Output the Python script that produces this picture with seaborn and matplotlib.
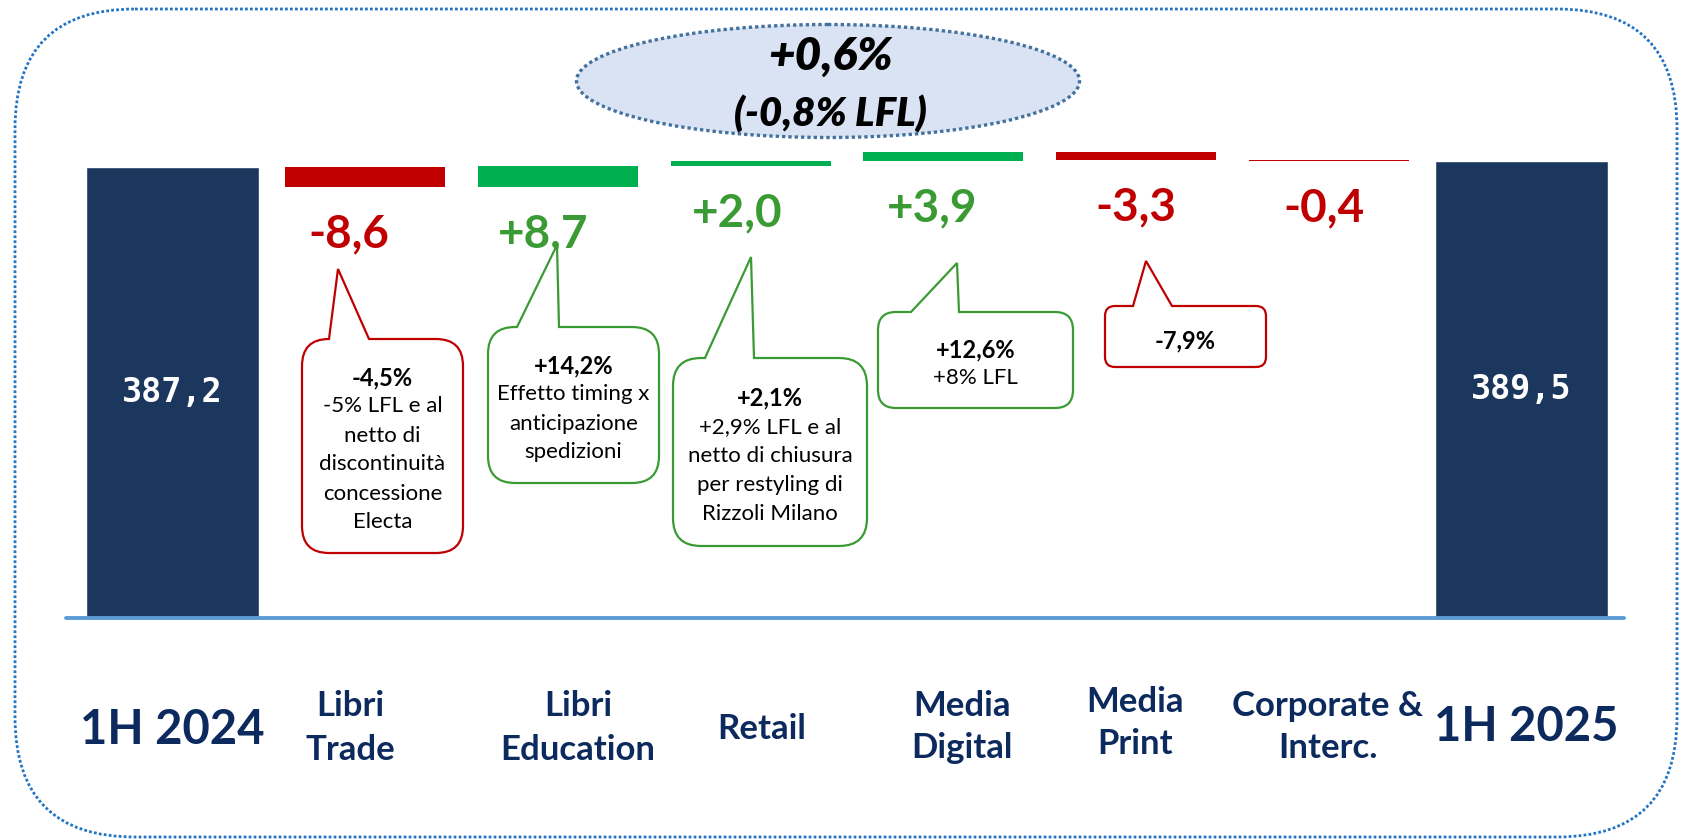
import numpy as np
import pandas as pd
import matplotlib
matplotlib.use("Agg")
import matplotlib.pyplot as plt
import seaborn as sns
from matplotlib.patches import Ellipse, FancyBboxPatch, PathPatch
from matplotlib.path import Path

# ---- data ----
categories = ["1H 2024", "Libri\nTrade", "Libri\nEducation", "Retail",
              "Media\nDigital", "Media\nPrint", "Corporate &\nInterc.", "1H 2025"]
start_value = 387.2
end_value = 389.5
deltas = [-8.6, 8.7, 2.0, 3.9, -3.3, -0.4]
delta_labels = ["-8,6", "+8,7", "+2,0", "+3,9", "-3,3", "-0,4"]
total_labels = ["387,2", "389,5"]
callout_heads = ["-4,5%", "+14,2%", "+2,1%", "+12,6%", "-7,9%"]
callout_bodies = [
    ["-5% LFL e al", "netto di", "discontinuità", "concessione", "Electa"],
    ["Effetto timing x", "anticipazione", "spedizioni"],
    ["+2,9% LFL e al", "netto di chiusura", "per restyling di", "Rizzoli Milano"],
    ["+8% LFL"],
    [],
]
growth_main = "+0,6%"
growth_lfl = "(-0,8% LFL)"

# ---- style ----
NAVY = "#1B375E"
RED = "#C00000"
GREEN_BAR = "#00B050"
GREEN_TXT = "#3A9B34"
LABEL_NAVY = "#0C2A5E"
BASELINE = "#5B9BD5"
Y_FLOOR = 200

sns.set_theme(style="white")
plt.rcParams['font.family'] = ['Lato', 'DejaVu Sans']

W, H = 1684, 840
fig = plt.figure(figsize=(W / 100, H / 100), dpi=100)
fig.patch.set_facecolor("white")

base_px = 617.5
ax = fig.add_axes([66 / W, (H - base_px) / H, (1624 - 66) / W, 481.8 / H])

# totals with seaborn
df_tot = pd.DataFrame({"cat": [categories[0], categories[-1]],
                       "value": [start_value, end_value]})
sns.barplot(data=df_tot, x="cat", y="value", order=categories, color=NAVY,
            saturation=1, width=0.9, errorbar=None, ax=ax)

# floating deltas
levels = start_value + np.cumsum(deltas)
prev = np.concatenate([[start_value], levels[:-1]])
bottoms = np.minimum(prev, levels)
heights = np.abs(deltas)
xpos = np.arange(1, len(deltas) + 1)
colors = [GREEN_BAR if d > 0 else RED for d in deltas]
ax.bar(xpos, heights, bottom=bottoms, width=0.83, color=colors, linewidth=0)

ax.set_xlim(-0.553, 7.532)
ax.set_ylim(Y_FLOOR, 400)
ax.set_xticks([])
ax.set_yticks([])
ax.set_xlabel("")
ax.set_ylabel("")
sns.despine(ax=ax, left=True, bottom=True)
ax.axhline(Y_FLOOR, color=BASELINE, lw=2.8, clip_on=False, zorder=3)

# delta value labels
delta_dx = [-16, -15, -13, -11, 0, -5]
for x, b, d, lbl, dx in zip(xpos, bottoms, deltas, delta_labels, delta_dx):
    ax.annotate(lbl, xy=(x, b), xytext=(dx, -43), textcoords="offset pixels",
                ha="center", va="center_baseline", fontsize=33, fontweight="bold",
                color=GREEN_TXT if d > 0 else RED)

# totals labels
for x, v, lbl in zip([0, len(categories) - 1], [start_value, end_value], total_labels):
    ax.text(x, (Y_FLOOR + v) / 2, lbl, ha="center", va="center", color="white",
            fontsize=24, fontweight="bold", family="DejaVu Sans Mono")

# category labels
cat_dx = [0, -15, 20, 11, 19, -1, -1, 5]
cat_y = [726, 725, 725, 726, 724, 720, 724, 723]
for i, (lab, dx, yc) in enumerate(zip(categories, cat_dx, cat_y)):
    lines = lab.split("\n")
    big = i in (0, len(categories) - 1)
    gap = 43
    for k, line in enumerate(lines):
        yy = yc + (k - (len(lines) - 1) / 2) * gap
        ax.annotate(line, xy=(i, 0), xycoords=ax.get_xaxis_transform(),
                    xytext=(dx, -(yy - base_px)), textcoords="offset pixels",
                    ha="center", va="center_baseline", fontweight="bold",
                    fontsize=34 if big else 25, color=LABEL_NAVY, annotation_clip=False)

# ---- overlay in pixel space ----
ov = fig.add_axes([0, 0, 1, 1])
ov.set_xlim(0, W)
ov.set_ylim(H, 0)
ov.axis("off")

# outer dotted frame
ov.add_patch(FancyBboxPatch((15, 9), 1662, 828, boxstyle="round,pad=0,rounding_size=120",
                            fill=False, ec="#2474C4", lw=2, ls=(0, (1, 0.8))))

# summary ellipse
ov.add_patch(Ellipse((828, 81), 503, 113, fc="#DAE3F3", ec="#44729E", lw=2.4,
                     ls=(0, (1, 0.9))))
ov.text(830, 70, growth_main, ha="center", va="baseline", fontsize=33,
        fontweight="heavy", style="italic", color="black")
ov.text(830, 126, growth_lfl, ha="center", va="baseline", fontsize=29,
        fontweight="heavy", style="italic", color="black")


def callout(box, tail, r, color, head, body):
    x0, y0, x1, y1 = box
    bl, tx, ty, br = tail
    verts = [(bl, y0), (tx, ty), (br, y0), (x1 - r, y0),
             (x1, y0), (x1, y0 + r), (x1, y1 - r),
             (x1, y1), (x1 - r, y1), (x0 + r, y1),
             (x0, y1), (x0, y1 - r), (x0, y0 + r),
             (x0, y0), (x0 + r, y0), (bl, y0), (bl, y0)]
    codes = [Path.MOVETO, Path.LINETO, Path.LINETO, Path.LINETO,
             Path.CURVE3, Path.CURVE3, Path.LINETO,
             Path.CURVE3, Path.CURVE3, Path.LINETO,
             Path.CURVE3, Path.CURVE3, Path.LINETO,
             Path.CURVE3, Path.CURVE3, Path.LINETO, Path.CLOSEPOLY]
    ov.add_patch(PathPatch(Path(verts, codes), fc="white", ec=color, lw=1.6,
                           joinstyle="miter"))
    step = 29
    n = len(body)
    cx = (x0 + x1) / 2
    cy = (y0 + y1) / 2 + 2
    top = cy - n * step / 2
    ov.text(cx, top, head, ha="center", va="center_baseline", fontsize=17,
            fontweight="bold", color="black")
    for k, line in enumerate(body):
        ov.text(cx, top + (k + 1) * step, line, ha="center", va="center_baseline",
                fontsize=16, color="black")


boxes = [(302, 339, 463, 553), (488, 327, 659, 483), (673, 358, 867, 546),
         (878, 312, 1073, 408), (1105, 306, 1266, 367)]
tails = [(329, 338, 269, 369), (517, 557, 245, 559), (705, 751, 257, 754),
         (911, 957, 263, 959), (1133, 1146, 261, 1172)]
radii = [27, 27, 28, 18, 10]
ccolors = [RED, GREEN_TXT, GREEN_TXT, GREEN_TXT, RED]
for bx, tl, r, c, hd, bd in zip(boxes, tails, radii, ccolors, callout_heads, callout_bodies):
    callout(bx, tl, r, c, hd, bd)

fig.savefig("out.png", dpi=100)
